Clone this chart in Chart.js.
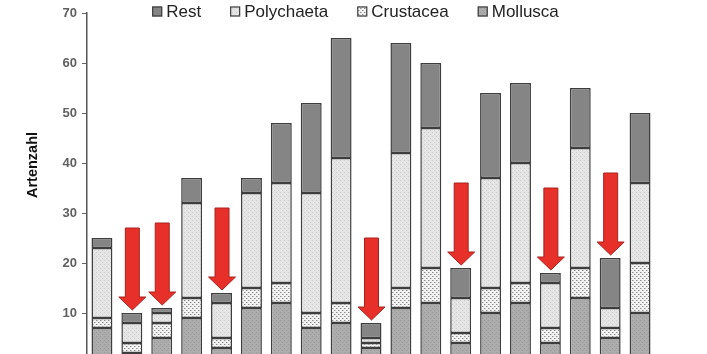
<!DOCTYPE html>
<html>
<head>
<meta charset="utf-8">
<script src="https://cdn.jsdelivr.net/npm/chart.js@4/dist/chart.umd.min.js"></script>
<style>
  html, body { margin: 0; padding: 0; background: #ffffff; overflow: hidden; }
  #wrap { position: relative; width: 707px; height: 380px; }
</style>
</head>
<body>
<div id="wrap"><canvas id="c" width="707" height="380"></canvas></div>
<script>
// ---- data ----
const categories = ['1','2','3','4','5','6','7','8','9','10','11','12','13','14','15','16','17','18','19'];
const mollusca   = [7, 2, 5, 9, 3, 11, 12, 7, 8, 3, 11, 12, 4, 10, 12, 4, 13, 5, 10];
const crustacea  = [2, 2, 3, 4, 2, 4, 4, 3, 4, 1, 4, 7, 2, 5, 4, 3, 6, 2, 10];
const polychaeta = [14, 4, 2, 19, 7, 19, 20, 24, 29, 1, 27, 28, 7, 22, 24, 9, 24, 4, 16];
const rest       = [2, 2, 1, 5, 2, 3, 12, 18, 24, 3, 22, 13, 6, 17, 16, 2, 12, 10, 14];
const arrowBars  = [1, 2, 4, 9, 12, 15, 17];
const yTicks     = [10, 20, 30, 40, 50, 60, 70];
const yTitle     = 'Artenzahl';
const legendOrder = ['Rest', 'Polychaeta', 'Crustacea', 'Mollusca'];

// ---- patterns ----
function makePattern(size, base, dots) {
  const c = document.createElement('canvas');
  c.width = size; c.height = size;
  const g = c.getContext('2d');
  g.fillStyle = base; g.fillRect(0, 0, size, size);
  dots.forEach(d => { g.fillStyle = d[2]; g.fillRect(d[0], d[1], 1, 1); });
  return g.createPattern(c, 'repeat');
}
const pMollusca = makePattern(4, '#ababab', [[0,0,'#9c9c9c'],[2,2,'#9c9c9c'],[1,3,'#b4b4b4']]);
const pCrust = makePattern(4, '#f2f2f2', [[0,0,'#8c8c8c'],[2,2,'#8c8c8c'],[1,0,'#c4c4c4'],[3,2,'#c4c4c4']]);
const pPoly = makePattern(4, '#e4e4e4', [[0,0,'#d2d2d2'],[2,2,'#d2d2d2'],[1,2,'#ececec']]);
const pRest = '#858585';

const border = '#3e3e3e';
function ds(label, data, bg) {
  return { label, data, backgroundColor: bg, borderColor: border, borderWidth: 1.5,
           borderSkipped: false, barPercentage: 0.7, categoryPercentage: 1.0 };
}

const arrowPlugin = {
  id: 'arrows',
  afterDatasetsDraw(chart) {
    const ctx = chart.ctx, xs = chart.scales.x, ys = chart.scales.y;
    arrowBars.forEach(i => {
      const total = mollusca[i] + crustacea[i] + polychaeta[i] + rest[i];
      const cx = xs.getPixelForValue(i) + 0.5;
      const tip = ys.getPixelForValue(total + 0.6);
      const top = ys.getPixelForValue(total + 17);
      const headH = 13, sw = 7, hw = 13.5;
      ctx.save();
      ctx.beginPath();
      ctx.moveTo(cx - sw, top);
      ctx.lineTo(cx + sw, top);
      ctx.lineTo(cx + sw, tip - headH);
      ctx.lineTo(cx + hw, tip - headH);
      ctx.lineTo(cx, tip);
      ctx.lineTo(cx - hw, tip - headH);
      ctx.lineTo(cx - sw, tip - headH);
      ctx.closePath();
      ctx.fillStyle = '#e8302a';
      ctx.fill();
      ctx.strokeStyle = '#a8231d';
      ctx.lineWidth = 1;
      ctx.stroke();
      ctx.restore();
    });
  }
};

const extrasPlugin = {
  id: 'extras',
  afterDraw(chart) {
    const ctx = chart.ctx, ca = chart.chartArea;
    // y axis title
    ctx.save();
    ctx.translate(33, ca.top + 152);
    ctx.rotate(-Math.PI / 2);
    ctx.font = 'bold 14.5px "Liberation Sans", Arial, sans-serif';
    ctx.fillStyle = '#111111';
    ctx.textAlign = 'center';
    ctx.textBaseline = 'middle';
    ctx.fillText(yTitle, 0, 0);
    ctx.restore();

    // legend
    ctx.save();
    ctx.font = '17px "Liberation Sans", Arial, sans-serif';
    const box = 10, gapText = 4, gapItem = 29;
    const items = legendOrder.map(name => chart.data.datasets.find(d => d.label === name));
    const widths = items.map(d => box + gapText + ctx.measureText(d.label).width);
    const total = widths.reduce((a, b) => a + b, 0) + gapItem * (items.length - 1);
    let x = (chart.width - total) / 2 + 2;
    const yc = 11.5;
    items.forEach((d, k) => {
      ctx.fillStyle = d.backgroundColor;
      ctx.fillRect(x, yc - box / 2, box, box);
      ctx.strokeStyle = '#3e3e3e';
      ctx.lineWidth = 1.2;
      ctx.strokeRect(x + 0.5, yc - box / 2 + 0.5, box - 1, box - 1);
      ctx.fillStyle = '#222222';
      ctx.textBaseline = 'middle';
      ctx.textAlign = 'left';
      ctx.fillText(d.label, x + box + gapText, yc + 0.5);
      x += widths[k] + gapItem;
    });
    ctx.restore();
  }
};

new Chart(document.getElementById('c'), {
  type: 'bar',
  data: {
    labels: categories,
    datasets: [
      ds('Mollusca', mollusca, pMollusca),
      ds('Crustacea', crustacea, pCrust),
      ds('Polychaeta', polychaeta, pPoly),
      ds('Rest', rest, pRest)
    ]
  },
  options: {
    responsive: false,
    animation: false,
    events: [],
    layout: { padding: { top: 13, right: 52, bottom: 17, left: 0 } },
    plugins: { legend: { display: false }, tooltip: { enabled: false }, title: { display: false } },
    scales: {
      x: { stacked: true, display: false, offset: true },
      y: {
        stacked: true, min: 0, max: 70,
        afterFit(scale) { scale.width = 87; },
        afterBuildTicks(scale) { scale.ticks = [0].concat(yTicks).map(v => ({ value: v })); },
        border: { display: true, color: '#555555', width: 1.5 },
        grid: { drawOnChartArea: false, drawTicks: true, tickLength: 5, color: '#666666', lineWidth: 1 },
        ticks: { padding: 5, color: '#5f5f5f', font: { family: '"Liberation Sans", Arial, sans-serif', size: 13, weight: 'bold' } }
      }
    }
  },
  plugins: [arrowPlugin, extrasPlugin]
});
</script>
</body>
</html>
